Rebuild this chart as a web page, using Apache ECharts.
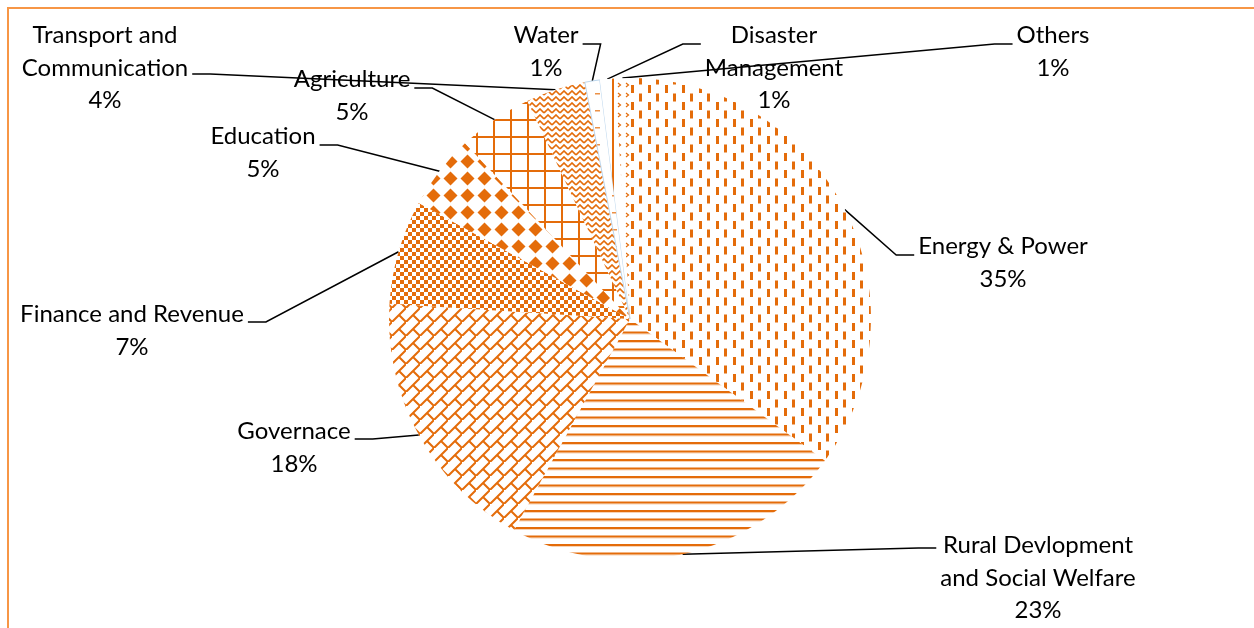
<!DOCTYPE html>
<html>
<head>
<meta charset="utf-8">
<script src="https://cdn.jsdelivr.net/npm/echarts@6/dist/echarts.min.js"></script>
<style>
  html, body { margin: 0; padding: 0; background: #fff; }
  #chart { width: 1254px; height: 628px; }
</style>
</head>
<body>
<div id="chart"></div>
<script>
// Budget shares by sector (%), clockwise from 12 o'clock
const categories = [
  'Energy & Power',
  'Rural Devlopment\nand Social Welfare',
  'Governace',
  'Finance and Revenue',
  'Education',
  'Agriculture',
  'Transport and\nCommunication',
  'Water',
  'Disaster\nManagement',
  'Others'
];
const shares = [35, 23, 18, 7, 5, 5, 4, 1, 1, 1];

// Where each label block sits (centre of the text block)
const labelCenters = [
  [1003, 263], [1038, 578], [294, 448], [132, 331], [263, 153],
  [352, 96], [105, 68], [546, 52], [774, 68], [1053, 52]
];
// Which side of the label the leader line meets, and its offset from the block centre
const labelAnchors = [
  ['left', -8], ['left', -30], ['right', -9], ['right', -9], ['right', -8],
  ['right', -8], ['right', 6], ['right', -8], ['left', -24], ['left', -8]
];

const ORANGE = '#E46C0A';

// Build a repeating canvas fill
function tile(w, h, draw) {
  const c = document.createElement('canvas');
  c.width = w; c.height = h;
  const ctx = c.getContext('2d');
  ctx.fillStyle = '#fff';
  ctx.fillRect(0, 0, w, h);
  ctx.fillStyle = ORANGE;
  ctx.strokeStyle = ORANGE;
  draw(ctx, w, h);
  return { image: c, repeat: 'repeat' };
}

const fills = [
  // dashed vertical
  tile(17, 17, ctx => { ctx.fillRect(2, 0, 3, 8); ctx.fillRect(10, 8.5, 3, 8); }),
  // horizontal lines
  tile(4, 17, ctx => {
    ctx.fillRect(0, 0, 4, 2);
    ctx.fillRect(0, 8.5, 4, 2);
    ctx.fillStyle = 'rgba(228,108,10,0.3)';
    ctx.fillRect(0, 2, 4, 1); ctx.fillRect(0, 10.5, 4, 1);
  }),
  // diagonal brick
  tile(14, 14, ctx => {
    ctx.lineWidth = 2;
    ctx.beginPath();
    ctx.moveTo(-2, 16); ctx.lineTo(16, -2);
    ctx.moveTo(7, 7); ctx.lineTo(14, 14);
    ctx.moveTo(-1, 13); ctx.lineTo(1, 15);
    ctx.stroke();
  }),
  // small checker board
  tile(8, 8, ctx => { ctx.fillRect(0, 0, 4, 4); ctx.fillRect(4, 4, 4, 4); }),
  // solid diamond
  tile(17, 17, ctx => {
    ctx.beginPath();
    ctx.moveTo(8.5, 1.5); ctx.lineTo(15.5, 8.5); ctx.lineTo(8.5, 15.5); ctx.lineTo(1.5, 8.5);
    ctx.closePath(); ctx.fill();
  }),
  // large grid
  tile(17, 17, ctx => { ctx.fillRect(0, 0, 2, 17); ctx.fillRect(0, 0, 17, 2); }),
  // zig zag
  tile(8, 6, ctx => {
    ctx.lineWidth = 1.6;
    ctx.beginPath();
    ctx.moveTo(0, 5); ctx.lineTo(4, 1); ctx.lineTo(8, 5);
    ctx.stroke();
  }),
  // dashed horizontal (light)
  tile(17, 17, ctx => {
    ctx.fillStyle = 'rgba(228,108,10,0.75)';
    ctx.fillRect(0, 8, 5, 1.5);
  }),
  // narrow vertical
  tile(17, 17, ctx => { ctx.fillRect(0, 0, 2, 17); }),
  // chevrons
  tile(8, 10, ctx => {
    ctx.lineWidth = 1.2;
    ctx.beginPath();
    ctx.moveTo(2, 3); ctx.lineTo(4.5, 5); ctx.lineTo(2, 7);
    ctx.stroke();
  })
];

const chart = echarts.init(document.getElementById('chart'), null, { renderer: 'canvas' });

const pieData = categories.map((name, i) => ({
  name: name,
  value: shares[i],
  itemStyle: {
    color: fills[i],
    borderWidth: i === 7 ? 1 : 0,
    borderColor: '#BDD7EE'
  }
}));

const ELBOW = 18;
const GAP = 4;

chart.setOption({
  animation: false,
  backgroundColor: '#fff',
  graphic: [{
    type: 'rect',
    shape: { x: 8, y: 8, width: 1400, height: 800 },
    style: { fill: null, stroke: '#F79646', lineWidth: 2 },
    silent: true
  }],
  series: [{
    type: 'pie',
    center: [630, 319],
    radius: 241,
    startAngle: 90,
    clockwise: true,
    avoidLabelOverlap: false,
    data: pieData,
    label: {
      show: true,
      position: 'outside',
      formatter: p => p.name + '\n' + p.value + '%',
      fontFamily: 'Lato',
      fontSize: 24,
      lineHeight: 32.5,
      color: '#000',
      align: 'center'
    },
    labelLine: {
      show: true,
      length: 20,
      length2: 18,
      lineStyle: { color: '#000', width: 1.5 }
    },
    emphasis: { disabled: true },
    labelLayout: function (params) {
      const i = params.dataIndex;
      const c = labelCenters[i];
      const a = labelAnchors[i];
      const half = params.labelRect.width / 2;
      const ay = c[1] + a[1];
      const ax = a[0] === 'left' ? c[0] - half - GAP : c[0] + half + GAP;
      const ex = a[0] === 'left' ? ax - ELBOW : ax + ELBOW;
      // start of the leader: the slice's own anchor on its arc
      const start = params.labelLinePoints ? params.labelLinePoints[0] : [ex, ay];
      return {
        x: c[0], y: c[1], align: 'center', verticalAlign: 'middle',
        labelLinePoints: [start, [ex, ay], [ax, ay]]
      };
    }
  }]
});
</script>
</body>
</html>
